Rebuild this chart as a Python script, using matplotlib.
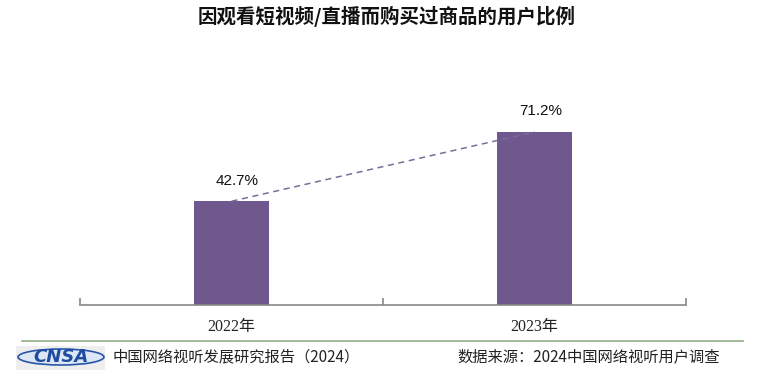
import matplotlib
matplotlib.use('Agg')
import matplotlib.pyplot as plt
from matplotlib.patches import Ellipse, Rectangle

years = ['2022年', '2023年']
shares = [42.7, 71.2]
labels = ['42.7%', '71.2%']

title = '因观看短视频/直播而购买过商品的用户比例'
footer_left = '中国网络视听发展研究报告（2024）'
footer_right = '数据来源：2024中国网络视听用户调查'

W, H = 771, 374
plt.rcParams['font.family'] = ['Noto Sans CJK SC', 'DejaVu Sans']

fig = plt.figure(figsize=(W / 100, H / 100), dpi=100)

# plot area in pixels: x 80..686, baseline y=305, 80% -> ~110
ax = fig.add_axes([80 / W, (H - 305) / H, (686 - 80) / W, 194.4 / H])
x = [0.5, 1.5]
ax.bar(x, shares, width=0.25, color='#6E588D', zorder=2)
ax.plot(x, shares, linestyle=(0, (4, 3)), color='#7B6C9C', linewidth=1.1, zorder=3)
for xi, v, t in zip(x, shares, labels):
    ax.text(xi + 0.02, v + 8.5, t, ha='center', va='center', fontsize=11,
            family=['Liberation Sans', 'DejaVu Sans'], color='#111111')

ax.set_xlim(0, 2)
ax.set_ylim(0, 80)
for s in ['top', 'right', 'left']:
    ax.spines[s].set_visible(False)
ax.spines['bottom'].set_color('#888888')
ax.spines['bottom'].set_linewidth(1.2)
ax.set_yticks([])
ax.set_xticks([0, 1, 2])
ax.set_xticklabels(['', '', ''])
ax.set_xticks(x, minor=True)
ax.set_xticklabels(years, minor=True, fontsize=11.5,
                   family=['Liberation Serif', 'Noto Sans CJK SC'], color='#222222')
ax.tick_params(axis='x', which='major', direction='in', length=5, color='#888888', width=1.2)
ax.tick_params(axis='x', which='minor', length=0, pad=10)

fig.text(387 / W, 1 - 16 / H, title, ha='center', va='center', fontsize=14,
         fontweight='heavy', color='#111111')

# footer
fig.add_artist(plt.Line2D([22 / W, 743 / W], [1 - 341 / H] * 2, color='#93AE86', linewidth=1.2))
fig.text(113 / W, 1 - 357 / H, footer_left, ha='left', va='center', fontsize=11, color='#222222')
fig.text(457 / W, 1 - 357 / H, footer_right, ha='left', va='center', fontsize=11, color='#222222')

# CNSA logo
fig.add_artist(Rectangle((16 / W, 1 - 370 / H), 89 / W, 24 / H, transform=fig.transFigure,
                         facecolor='#EEEEEE', edgecolor='none'))
fig.add_artist(Ellipse((61 / W, 1 - 357 / H), 86 / W, 16 / H, transform=fig.transFigure,
                       facecolor='#DCE6F5', edgecolor='#2A56A8', linewidth=1.2))
fig.text(61 / W, 1 - 357 / H, 'CNSA', ha='center', va='center', fontsize=13,
         fontweight='heavy', style='italic', family=['DejaVu Sans'], color='#1E4C9E')

fig.savefig('out.png', dpi=100)
